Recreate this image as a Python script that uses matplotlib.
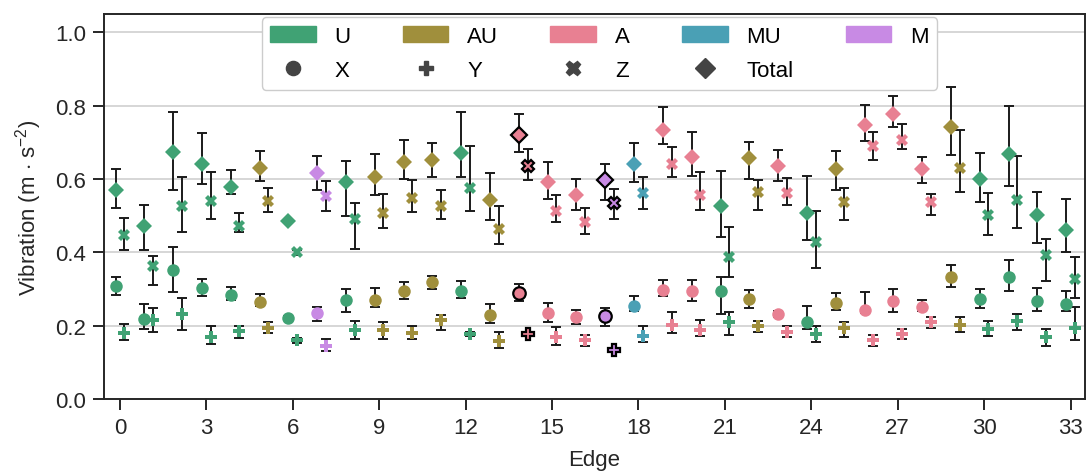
import matplotlib.pyplot as plt
import matplotlib.patches as mpatches
from matplotlib.lines import Line2D
import numpy as np

plt.rcParams['font.family'] = ['Liberation Sans', 'DejaVu Sans']
plt.rcParams['mathtext.fontset'] = 'custom'
plt.rcParams['mathtext.rm'] = 'Liberation Sans'
plt.rcParams['mathtext.it'] = 'Liberation Sans:italic'

# category of each edge
edge_cat = ['U', 'U', 'U', 'U', 'U', 'AU', 'U', 'M', 'U', 'AU', 'AU', 'AU', 'U', 'AU',
            'A', 'A', 'A', 'M', 'MU', 'A', 'A', 'U', 'AU', 'A', 'U', 'AU', 'A', 'A',
            'A', 'AU', 'U', 'U', 'U', 'U']
highlight = [14, 17]

cats = ['U', 'AU', 'A', 'MU', 'M']
cat_colors = {'U': '#40a274', 'AU': '#a08f3c', 'A': '#e88092', 'MU': '#4aa0b5', 'M': '#c88ae4'}

# mean, lower, upper for each component
x_mean = [0.307, 0.219, 0.351, 0.303, 0.283, 0.264, 0.221, 0.234, 0.269, 0.271, 0.295, 0.318,
          0.295, 0.230, 0.289, 0.235, 0.225, 0.227, 0.255, 0.298, 0.295, 0.294, 0.273, 0.233,
          0.211, 0.263, 0.242, 0.268, 0.251, 0.333, 0.273, 0.333, 0.266, 0.260]
x_lo = [0.285, 0.192, 0.292, 0.282, 0.271, 0.253, 0.216, 0.213, 0.237, 0.251, 0.273, 0.300,
        0.275, 0.207, 0.267, 0.210, 0.205, 0.200, 0.239, 0.280, 0.268, 0.232, 0.247, 0.225,
        0.191, 0.244, 0.235, 0.236, 0.239, 0.305, 0.247, 0.294, 0.241, 0.241]
x_hi = [0.332, 0.258, 0.414, 0.327, 0.306, 0.287, 0.226, 0.252, 0.299, 0.303, 0.318, 0.335,
        0.323, 0.259, 0.313, 0.262, 0.244, 0.248, 0.280, 0.325, 0.325, 0.332, 0.297, 0.241,
        0.255, 0.289, 0.291, 0.300, 0.271, 0.366, 0.300, 0.380, 0.303, 0.295]

y_mean = [0.180, 0.215, 0.233, 0.168, 0.185, 0.194, 0.160, 0.144, 0.189, 0.189, 0.180, 0.216,
          0.177, 0.157, 0.177, 0.169, 0.160, 0.135, 0.173, 0.201, 0.189, 0.210, 0.198, 0.182,
          0.177, 0.193, 0.160, 0.178, 0.209, 0.202, 0.191, 0.212, 0.168, 0.193]
y_lo = [0.162, 0.182, 0.189, 0.151, 0.166, 0.180, 0.154, 0.130, 0.165, 0.165, 0.165, 0.187,
        0.172, 0.139, 0.171, 0.148, 0.144, 0.130, 0.155, 0.180, 0.173, 0.175, 0.184, 0.169,
        0.156, 0.170, 0.144, 0.164, 0.195, 0.183, 0.173, 0.189, 0.144, 0.162]
y_hi = [0.205, 0.249, 0.275, 0.198, 0.198, 0.210, 0.166, 0.164, 0.212, 0.209, 0.198, 0.230,
        0.182, 0.182, 0.183, 0.196, 0.175, 0.140, 0.200, 0.236, 0.215, 0.238, 0.213, 0.200,
        0.198, 0.209, 0.175, 0.191, 0.225, 0.224, 0.212, 0.233, 0.191, 0.251]

z_mean = [0.446, 0.362, 0.527, 0.539, 0.471, 0.539, 0.400, 0.553, 0.492, 0.507, 0.547, 0.527,
          0.575, 0.464, 0.635, 0.514, 0.482, 0.535, 0.562, 0.641, 0.557, 0.386, 0.564, 0.561,
          0.427, 0.536, 0.689, 0.707, 0.536, 0.630, 0.501, 0.542, 0.393, 0.327]
z_lo = [0.405, 0.312, 0.455, 0.492, 0.455, 0.509, 0.394, 0.513, 0.408, 0.467, 0.511, 0.492,
        0.513, 0.422, 0.596, 0.482, 0.451, 0.491, 0.518, 0.605, 0.516, 0.332, 0.516, 0.529,
        0.356, 0.488, 0.651, 0.683, 0.501, 0.565, 0.447, 0.467, 0.323, 0.276]
z_hi = [0.493, 0.390, 0.605, 0.618, 0.507, 0.575, 0.406, 0.594, 0.535, 0.558, 0.598, 0.571,
        0.689, 0.527, 0.683, 0.555, 0.521, 0.573, 0.605, 0.687, 0.618, 0.468, 0.598, 0.602,
        0.513, 0.575, 0.728, 0.751, 0.560, 0.733, 0.562, 0.664, 0.436, 0.387]

t_mean = [0.571, 0.473, 0.674, 0.642, 0.578, 0.630, 0.485, 0.617, 0.591, 0.605, 0.647, 0.652,
          0.671, 0.542, 0.721, 0.591, 0.555, 0.596, 0.641, 0.734, 0.659, 0.527, 0.656, 0.635,
          0.506, 0.626, 0.747, 0.778, 0.628, 0.742, 0.601, 0.669, 0.501, 0.460]
t_lo = [0.520, 0.407, 0.571, 0.585, 0.559, 0.594, 0.479, 0.571, 0.498, 0.555, 0.601, 0.605,
        0.605, 0.489, 0.674, 0.545, 0.515, 0.544, 0.591, 0.695, 0.607, 0.441, 0.600, 0.594,
        0.433, 0.571, 0.704, 0.741, 0.588, 0.666, 0.538, 0.582, 0.425, 0.400]
t_hi = [0.627, 0.529, 0.782, 0.726, 0.624, 0.675, 0.491, 0.664, 0.648, 0.669, 0.705, 0.699,
        0.782, 0.615, 0.776, 0.645, 0.600, 0.642, 0.698, 0.796, 0.729, 0.621, 0.701, 0.680,
        0.607, 0.675, 0.803, 0.825, 0.660, 0.852, 0.671, 0.800, 0.565, 0.546]

components = [
    ('X', 'o', 9, -0.15, x_mean, x_lo, x_hi),
    ('Y', 'P', 9, 0.15, y_mean, y_lo, y_hi),
    ('Z', 'X', 9, 0.15, z_mean, z_lo, z_hi),
    ('Total', 'D', 8.5, -0.15, t_mean, t_lo, t_hi),
]

fig = plt.figure(figsize=(10.9, 4.77), dpi=100)
ax = fig.add_axes([0.0954, 0.1614, 0.9, 0.8072])

ax.grid(axis='y', color='#d0d0d0', linewidth=1.2, zorder=0)

edges = np.arange(len(edge_cat))
for name, mk, ms, off, m, lo, hi in components:
    m = np.array(m)
    err = np.vstack([m - np.array(lo), np.array(hi) - m])
    ax.errorbar(edges + off, m, yerr=err, fmt='none', ecolor='#1a1a1a',
                elinewidth=1.4, capsize=3.5, capthick=1.4, zorder=2)
    for i in edges:
        ec = 'black' if i in highlight else 'none'
        lw = 1.6 if i in highlight else 0
        ax.plot(i + off, m[i], marker=mk, markersize=ms, color=cat_colors[edge_cat[i]],
                markeredgecolor=ec, markeredgewidth=lw, linestyle='none', zorder=3)

ax.set_xlim(-0.55, 33.5)
ax.set_ylim(0, 1.05)
ax.set_xticks(np.arange(0, 34, 3))
ax.set_yticks(np.arange(0, 1.01, 0.2))
ax.set_yticklabels(['%.1f' % v for v in np.arange(0, 1.01, 0.2)])
ax.tick_params(direction='out', length=8, width=1.4, labelsize=16, colors='#262626', pad=5)
for s in ax.spines.values():
    s.set_linewidth(1.4)
    s.set_color('#262626')
ax.set_xlabel('Edge', fontsize=16, color='#262626', labelpad=8)
ax.set_ylabel('Vibration (m $\\cdot$ s$^{-2}$)', fontsize=16, color='#262626', labelpad=8)

cat_handles = [mpatches.Patch(color=cat_colors[c], label=c) for c in cats]
comp_handles = [Line2D([], [], marker=mk, markersize=ms + 1.2, color='#444444', linestyle='none', label=n)
                for n, mk, ms, off, m, lo, hi in components]
handles = [cat_handles[0], comp_handles[0], cat_handles[1], comp_handles[1],
           cat_handles[2], comp_handles[2], cat_handles[3], comp_handles[3], cat_handles[4]]
leg = ax.legend(handles=handles, ncol=5, loc='upper center', bbox_to_anchor=(0.505, 1.0),
                fontsize=16, handlelength=2.05, columnspacing=2.35, handletextpad=0.85,
                frameon=True, fancybox=True, framealpha=1, edgecolor='#cccccc',
                borderpad=0.38, labelspacing=0.6, borderaxespad=0.15)

fig.savefig('out.png', dpi=100)
